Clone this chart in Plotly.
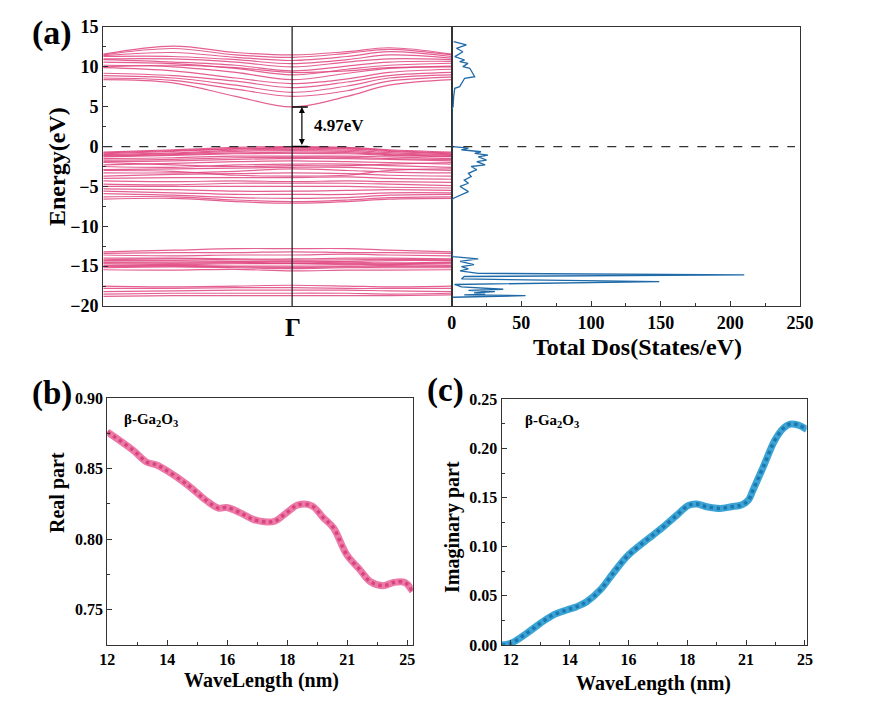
import numpy as np
import plotly.graph_objs as go

# ---- data ----

# (a) band structure: energies (eV) at k-points along the path, Gamma in the middle
k_path = [0.0, 0.2, 0.38, 0.542, 0.7, 0.82, 1.0]
gamma_k = 0.542
band_gap = 4.97

conduction_bands = [
    [8.4, 8.0, 6.3, 4.97, 6.3, 7.7, 8.4],
    [8.6, 8.3, 7.2, 6.3, 7.0, 8.2, 8.7],
    [8.9, 8.6, 7.7, 6.8, 7.6, 8.6, 9.0],
    [9.2, 8.9, 8.2, 7.4, 8.1, 8.9, 9.3],
    [9.9, 9.5, 8.6, 7.9, 8.5, 9.3, 9.7],
    [10.2, 10.0, 9.3, 8.4, 9.2, 9.8, 10.1],
    [10.0, 10.2, 9.9, 9.3, 9.5, 9.9, 10.0],
    [10.6, 10.4, 9.8, 9.0, 9.7, 10.2, 10.45],
    [10.9, 10.6, 10.2, 9.5, 10.1, 10.6, 10.7],
    [11.0, 11.0, 10.6, 10.0, 10.6, 11.0, 10.9],
    [11.3, 11.3, 10.9, 10.4, 10.9, 11.5, 11.1],
    [11.4, 11.8, 11.2, 10.8, 11.3, 11.9, 11.3],
    [11.5, 12.3, 11.5, 11.2, 11.7, 12.2, 11.5],
    [11.6, 12.6, 11.8, 11.5, 11.9, 12.4, 11.6],
]

valence_bands = [
    [-0.7, -0.4, -0.1, 0.0, -0.1, -0.4, -0.7],
    [-0.8, -0.5, -0.25, -0.1, -0.2, -0.5, -0.8],
    [-0.9, -0.6, -0.3, -0.2, -0.3, -0.6, -0.9],
    [-1.0, -0.8, -0.45, -0.35, -0.45, -0.75, -1.0],
    [-1.1, -0.9, -0.6, -0.5, -0.6, -0.9, -1.1],
    [-1.2, -1.0, -0.8, -0.7, -0.75, -1.0, -1.2],
    [-1.3, -1.1, -0.9, -0.85, -0.9, -1.1, -1.25],
    [-1.5, -1.4, -1.2, -1.2, -1.2, -1.3, -1.5],
    [-1.7, -1.6, -1.4, -1.35, -1.35, -1.5, -1.65],
    [-1.9, -1.8, -1.6, -1.5, -1.5, -1.6, -1.8],
    [-2.0, -2.3, -2.5, -2.4, -2.4, -2.2, -2.0],
    [-2.3, -2.1, -1.9, -1.8, -1.9, -2.0, -2.2],
    [-2.5, -2.6, -2.3, -2.2, -2.2, -2.4, -2.6],
    [-2.9, -2.8, -2.7, -2.6, -2.6, -2.8, -3.0],
    [-3.0, -3.1, -3.6, -3.7, -3.6, -3.0, -2.8],
    [-3.3, -3.3, -3.1, -2.8, -3.0, -3.2, -3.3],
    [-3.7, -3.5, -3.4, -3.3, -3.4, -3.6, -3.7],
    [-4.0, -3.9, -3.9, -3.9, -3.8, -4.0, -4.1],
    [-4.3, -4.4, -4.3, -4.4, -4.3, -4.4, -4.5],
    [-4.7, -4.8, -4.6, -4.6, -4.6, -4.7, -4.9],
    [-5.0, -5.0, -5.0, -5.0, -5.0, -5.1, -5.2],
    [-5.3, -5.4, -5.6, -5.6, -5.5, -5.4, -5.5],
    [-5.6, -5.8, -6.0, -6.0, -6.0, -5.8, -5.8],
    [-5.9, -6.1, -6.4, -6.5, -6.4, -6.1, -6.0],
    [-6.3, -6.3, -6.7, -6.9, -6.7, -6.4, -6.3],
    [-6.6, -6.5, -6.9, -7.1, -6.9, -6.6, -6.5],
]

semicore_bands = [
    [-13.2, -13.0, -12.8, -12.8, -12.8, -13.0, -13.2],
    [-13.4, -13.3, -13.3, -13.2, -13.3, -13.3, -13.4],
    [-13.6, -13.7, -13.6, -13.6, -13.5, -13.6, -13.7],
    [-14.0, -14.0, -14.1, -14.1, -14.0, -14.0, -14.1],
    [-14.2, -14.1, -14.2, -14.25, -14.2, -14.15, -14.2],
    [-14.3, -14.3, -14.4, -14.4, -14.4, -14.3, -14.3],
    [-14.5, -14.5, -14.5, -14.6, -14.5, -14.6, -14.5],
    [-14.6, -14.65, -14.6, -14.65, -14.65, -14.7, -14.6],
    [-14.7, -14.8, -14.7, -14.7, -14.8, -14.8, -14.7],
    [-14.9, -14.9, -15.0, -15.0, -15.0, -14.9, -14.9],
    [-15.05, -15.0, -15.1, -15.15, -15.1, -15.05, -15.05],
    [-15.2, -15.1, -15.2, -15.3, -15.2, -15.2, -15.2],
    [-15.45, -15.5, -15.4, -15.6, -15.5, -15.5, -15.45],
    [-17.5, -17.6, -17.5, -17.4, -17.5, -17.6, -17.5],
    [-17.8, -17.8, -17.7, -17.7, -17.8, -17.8, -17.8],
    [-18.2, -18.1, -18.0, -18.0, -18.0, -18.1, -18.2],
    [-18.5, -18.4, -18.4, -18.4, -18.4, -18.5, -18.4],
    [-18.8, -18.7, -18.7, -18.7, -18.7, -18.7, -18.6],
]

# (a) total DOS
dos_energy = [-18.9, -18.7, -18.6, -18.5, -18.35, -18.2, -18.05, -17.9, -17.6, -17.3,
              -16.95, -16.6, -16.3, -16.1, -15.9, -15.6, -15.35, -15.07, -14.8, -14.4,
              -14.1, -13.8, -13.5, -6.8, -6.5, -6.07, -5.65, -5.0, -4.6, -4.2,
              -3.77, -3.35, -2.9, -2.5, -2.3, -1.9, -1.7, -1.28, -1.07, -0.86,
              -0.65, -0.4, -0.2, 0.0, 0.2, 4.7, 5.0, 6.26, 7.31, 7.52,
              8.15, 8.57, 8.77, 9.82, 10.03, 10.44, 10.65, 10.86, 11.28, 11.9,
              12.33, 12.75, 13.16]
dos_value = [1, 53, 9, 24, 16, 31, 12, 37, 7, 2,
             149, 7, 9, 210, 19, 6, 12, 7, 16, 6,
             19, 1, 0, 0, 1, 6, 12, 6, 12, 9,
             14, 12, 18, 14, 24, 18, 25, 19, 26, 16.5,
             21, 7, 12, 1, 0, 0, 1, 1.4, 2.2, 5.7,
             8, 9.3, 16.5, 13, 8, 11.7, 5.7, 9.3, 2.2, 8,
             3.4, 10.5, 1.4]

# (b), (c) optical constants
wl_ticks = [12, 14, 16, 18, 21, 25]

real_wl = [12.0, 12.86, 13.32, 13.64, 13.98, 14.64, 15.32, 15.7, 15.98, 16.42, 16.86, 17.32,
           17.6, 17.98, 18.54, 19.23, 19.8, 20.31, 20.97, 21.84, 22.52, 23.4, 24.08, 24.84, 25.36]
real_val = [0.876, 0.863, 0.8545, 0.8526, 0.8486, 0.839, 0.827, 0.822, 0.8224, 0.8188, 0.814, 0.8121,
            0.8129, 0.8188, 0.8243, 0.8236, 0.8152, 0.808, 0.789, 0.7783, 0.770, 0.767, 0.7693, 0.7693, 0.7629]

imag_wl = [11.69, 12.0, 12.54, 13.0, 13.44, 13.9, 14.24, 14.58, 15.04, 15.48, 15.94, 16.4, 16.84, 17.18,
           17.64, 18.06, 18.48, 18.99, 19.68, 20.25, 20.76, 21.16, 21.48, 22.16, 22.96, 23.52, 24.0, 24.56, 25.12]
imag_val = [0.0, 0.0017, 0.0119, 0.022, 0.0305, 0.0356, 0.039, 0.044, 0.056, 0.073, 0.0898, 0.1017, 0.112, 0.12,
            0.132, 0.142, 0.1434, 0.1407, 0.139, 0.1407, 0.1424, 0.1475, 0.158, 0.181, 0.2085, 0.2203, 0.2248, 0.2237, 0.2193]


# wavelength axis is drawn with evenly spaced (non linear) labels
def wl_pos(wl):
    wl = np.asarray(wl, dtype = float)
    pos = np.interp(wl, wl_ticks, np.arange(len(wl_ticks)))
    lo = wl < wl_ticks[0]
    hi = wl > wl_ticks[-1]
    pos[lo] = (wl[lo] - wl_ticks[0]) / (wl_ticks[1] - wl_ticks[0])
    pos[hi] = len(wl_ticks) - 1 + (wl[hi] - wl_ticks[-1]) / (wl_ticks[-1] - wl_ticks[-2])
    return pos


W, H = 879, 704
PAGE_OFFSET = 8   # the page body margin shifts the figure by 8px
FONT = "Liberation Serif, Times New Roman, serif"
PINK = "#e0457f"
BLUE = "#1f6aa8"


def px(x):
    return (x - PAGE_OFFSET) / W


def py(y):
    return 1 - (y - PAGE_OFFSET) / H


def bold(size):
    return dict(family = FONT, size = size, weight = "bold", color = "black")


fig = go.Figure()

# band lines
for band in conduction_bands + valence_bands + semicore_bands:
    fig.add_trace(go.Scatter(x = k_path, y = band, mode = "lines", line_shape = "spline",
                             line = dict(color = PINK, width = 1.2), opacity = 0.85,
                             xaxis = "x", yaxis = "y", showlegend = False, hoverinfo = "skip"))

# DOS
fig.add_trace(go.Scatter(x = dos_value, y = dos_energy, mode = "lines",
                         line = dict(color = BLUE, width = 1.3),
                         xaxis = "x2", yaxis = "y2", showlegend = False))

# (b) real part: thick light line with darker dots
rx = wl_pos(real_wl)
fig.add_trace(go.Scatter(x = rx, y = real_val, mode = "lines", line_shape = "spline",
                         line = dict(color = "#ec7aa7", width = 7),
                         xaxis = "x3", yaxis = "y3", showlegend = False))
fig.add_trace(go.Scatter(x = rx, y = real_val, mode = "lines", line_shape = "spline",
                         line = dict(color = "#d9437f", width = 3.5, dash = "dot"),
                         xaxis = "x3", yaxis = "y3", showlegend = False))

# (c) imaginary part
ix = wl_pos(imag_wl)
fig.add_trace(go.Scatter(x = ix, y = imag_val, mode = "lines", line_shape = "spline",
                         line = dict(color = "#3ca4d4", width = 7),
                         xaxis = "x4", yaxis = "y4", showlegend = False))
fig.add_trace(go.Scatter(x = ix, y = imag_val, mode = "lines", line_shape = "spline",
                         line = dict(color = "#1b78b0", width = 3.5, dash = "dot"),
                         xaxis = "x4", yaxis = "y4", showlegend = False))

axis_common = dict(showline = True, linecolor = "#333", linewidth = 1.3, mirror = True, automargin = False,
                   showgrid = False, zeroline = False, ticks = "inside", ticklen = 5,
                   tickcolor = "#333", tickfont = bold(18))
minor_ticks = dict(ticks = "inside", ticklen = 3, tickcolor = "#333")

fig.update_layout(
    width = W, height = H, margin = dict(l = 0, r = 0, t = 0, b = 0, autoexpand = False),
    plot_bgcolor = "white", paper_bgcolor = "white",
    font = dict(family = FONT, color = "black", weight = "bold"),
    xaxis = dict(axis_common, domain = [px(103.3), px(451.7)], range = [0, 1], anchor = "y",
                 showticklabels = False, ticks = ""),
    yaxis = dict(axis_common, domain = [py(306), py(27)], range = [-20, 15], anchor = "x",
                 dtick = 5, minor = dict(minor_ticks, dtick = 2.5)),
    xaxis2 = dict(axis_common, domain = [px(451.7), px(800)], range = [0, 250], anchor = "y2", dtick = 50,
                  minor = dict(minor_ticks, dtick = 25)),
    yaxis2 = dict(axis_common, domain = [py(306), py(27)], range = [-20, 15], anchor = "x2",
                  showticklabels = False, ticks = ""),
    xaxis3 = dict(axis_common, domain = [px(107.3), px(412.7)], range = [0, float(wl_pos([25.36])[0])], anchor = "y3",
                  tickmode = "array", tickvals = list(range(len(wl_ticks))), ticktext = [str(t) for t in wl_ticks],
                  minor = dict(minor_ticks, tickvals = [i + 0.5 for i in range(len(wl_ticks) - 1)]),
                  tickfont = bold(16)),
    yaxis3 = dict(axis_common, domain = [py(645), py(398)], range = [0.725, 0.90], anchor = "x3", dtick = 0.05,
                  tickformat = ".2f", tickfont = bold(16), minor = dict(minor_ticks, dtick = 0.025)),
    xaxis4 = dict(axis_common, domain = [px(501.7), px(806.7)], range = [float(wl_pos([11.69])[0]), float(wl_pos([25.12])[0])],
                  anchor = "y4", tickmode = "array", tickvals = list(range(len(wl_ticks))), ticktext = [str(t) for t in wl_ticks],
                  minor = dict(minor_ticks, tickvals = [i + 0.5 for i in range(len(wl_ticks) - 1)]),
                  tickfont = bold(16)),
    yaxis4 = dict(axis_common, domain = [py(645), py(399.3)], range = [0, 0.25], anchor = "x4", dtick = 0.05,
                  tickformat = ".2f", tickfont = bold(16), minor = dict(minor_ticks, dtick = 0.025)),
)

# Fermi level, Gamma line, band gap marker
fig.add_shape(type = "line", xref = "paper", yref = "y", x0 = px(103.3), x1 = px(795), y0 = 0, y1 = 0,
              line = dict(color = "#333", width = 1.3, dash = "dash"))
fig.add_shape(type = "line", xref = "x", yref = "y domain", x0 = gamma_k, x1 = gamma_k, y0 = 0, y1 = 1,
              line = dict(color = "#222", width = 1.3))
for e in [0, band_gap]:
    fig.add_shape(type = "line", xref = "x", yref = "y", x0 = gamma_k, x1 = gamma_k + 0.045, y0 = e, y1 = e,
                  line = dict(color = "black", width = 1.5))
fig.add_annotation(x = gamma_k + 0.028, y = band_gap, ax = gamma_k + 0.028, ay = 0, xref = "x", yref = "y",
                   axref = "x", ayref = "y", text = "", showarrow = True, arrowhead = 2, arrowside = "end+start",
                   arrowsize = 1, arrowwidth = 1.2, arrowcolor = "black")
fig.add_annotation(x = gamma_k + 0.057, y = 2.6, xref = "x", yref = "y", text = "4.97eV", showarrow = False,
                   xanchor = "left", font = bold(17))

# axis titles and labels placed as in the reference
titles = [
    ("Γ", 292.5, 327, 0, 25),
    ("Energy(eV)", 57, 167, -90, 24),
    ("Total Dos(States/eV)", 637, 347, 0, 24),
    ("Real part", 57, 493, -90, 20),
    ("WaveLength (nm)", 261, 680, 0, 20),
    ("Imaginary part", 452, 527, -90, 20),
    ("WaveLength (nm)", 653, 683, 0, 20),
    ("(a)", 52, 33, 0, 34),
    ("(b)", 52, 393, 0, 33),
    ("(c)", 445, 390, 0, 33),
]
for text, x, y, angle, size in titles:
    fig.add_annotation(x = px(x), y = py(y), xref = "paper", yref = "paper", text = text, textangle = angle,
                       showarrow = False, xanchor = "center", yanchor = "middle", font = bold(size))

for xr, yr, x0 in [("x3 domain", "y3 domain", 0.048), ("x4 domain", "y4 domain", 0.07)]:
    fig.add_annotation(x = x0, y = 0.91, xref = xr, yref = yr, text = "β-Ga<sub>2</sub>O<sub>3</sub>",
                       showarrow = False, xanchor = "left", yanchor = "middle", font = bold(15))

fig.write_html("out.html")
